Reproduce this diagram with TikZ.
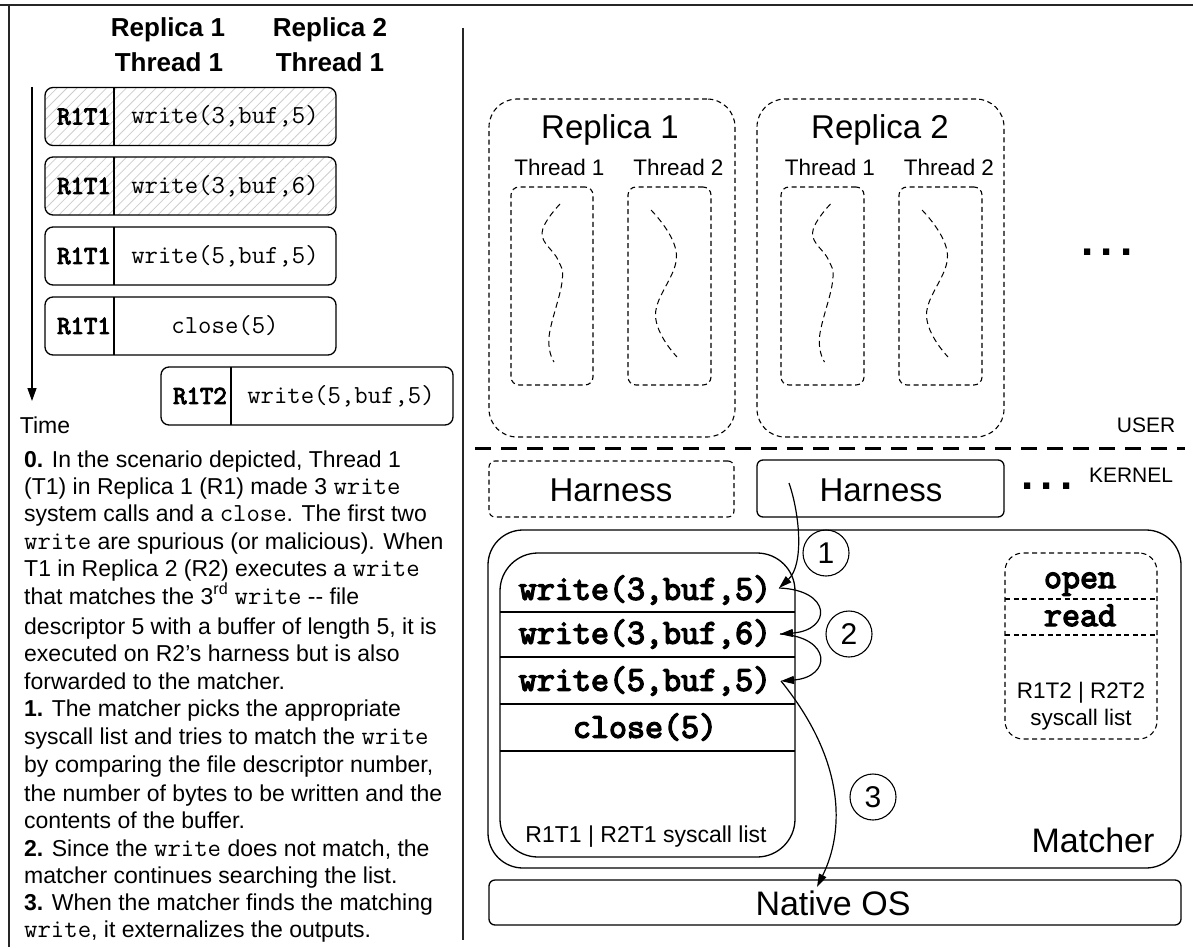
\documentclass[tikz,border=0pt]{standalone}
\usepackage{fontspec}
\setmainfont{Liberation Sans}
\newfontfamily\monobold{Latin Modern Mono}[FakeBold=4]
\usetikzlibrary{arrows.meta,patterns.meta}
\newcommand\fsz[1]{\fontsize{#1}{#1}\selectfont}
\newcommand\code[1]{{\fontsize{26}{23}\selectfont\ttfamily #1}}
\tikzset{
  frame/.style={line width=2pt, draw=black!85},
  callbox/.style={draw, line width=1.3pt, rounded corners=8, minimum width=291, minimum height=58, inner sep=0, outer sep=0},
  hatched/.style={pattern={Lines[angle=45,distance=7pt,line width=0.8pt]}, pattern color=black!20},
  cell/.style={line width=1.3pt},
  lbl/.style={inner sep=0, font=\fsz{26}\monobold},
  call/.style={inner sep=0, font=\fsz{26}\ttfamily},
  hdr/.style={inner sep=0, font=\fsz{26}\bfseries},
  note/.style={anchor=base west, inner sep=0, font=\fsz{23}},
  dashbox/.style={draw, dash pattern=on 5pt off 3.5pt, line width=1.1pt, inner sep=0, outer sep=0},
  solidbox/.style={draw, line width=1.3pt, inner sep=0, outer sep=0},
  threadline/.style={dash pattern=on 6pt off 4pt, line width=1pt},
  big/.style={inner sep=0, font=\fsz{33}},
  mid/.style={inner sep=0, font=\fsz{22.5}},
  small/.style={inner sep=0, font=\fsz{21}},
  row/.style={inner sep=0, font=\fsz{35}\monobold},
  numc/.style={draw, circle, line width=1.1pt, minimum size=46, inner sep=0, font=\fsz{30}},
  flow/.style={line width=1.2pt, -{Triangle[length=13pt,width=8pt]}},
  dots/.style={inner sep=0, font=\fsz{44}\bfseries},
}
\begin{document}
\begin{tikzpicture}[x=1pt,y=-1pt]
\useasboundingbox (0,0) rectangle (1193,947);

% page rules
\draw[frame] (0,5) -- (1193,5);
\draw[frame] (9,5) -- (9,947);
\draw[frame] (463,28) -- (463,940);

% ---------- timeline ----------
\node[hdr] (hr1) at (168,30) {Replica 1};
\node[hdr] (ht1) at (169,62) {Thread 1};
\node[hdr] (hr2) at (330,30) {Replica 2};
\node[hdr] (ht2) at (330,62) {Thread 1};

\coordinate (tstart) at (32,87);
\coordinate (tend) at (32,401);
\draw[line width=1.3pt, -{Triangle[length=13pt,width=9pt]}] (tstart) -- (tend);
\node[inner sep=0, font=\fsz{23}] (time) at (45,425) {Time};

\node[callbox, hatched] (c1) at (190.5,116.5) {};
\draw[cell] (114,87.5) -- (114,145.5);
\node[lbl] (c1l) at (84,116.5) {R1T1};
\node[call] (c1c) at (225,116.5) {write(3,buf,5)};

\node[callbox, hatched] (c2) at (190.5,186) {};
\draw[cell] (114,157) -- (114,215);
\node[lbl] (c2l) at (84,186) {R1T1};
\node[call] (c2c) at (225,186) {write(3,buf,6)};

\node[callbox] (c3) at (190.5,256) {};
\draw[cell] (114,227) -- (114,285);
\node[lbl] (c3l) at (84,256) {R1T1};
\node[call] (c3c) at (225,256) {write(5,buf,5)};

\node[callbox] (c4) at (190.5,326) {};
\draw[cell] (114,297) -- (114,355);
\node[lbl] (c4l) at (84,326) {R1T1};
\node[call] (c4c) at (225,326) {close(5)};

\node[callbox, minimum width=292] (c5) at (307,396) {};
\draw[cell] (231,367) -- (231,425);
\node[lbl] (c5l) at (200,396) {R1T2};
\node[call] (c5c) at (341,396) {write(5,buf,5)};

% ---------- explanation ----------
\node[note] (n1) at (24,467.3) {\textbf{0.} In the scenario depicted, Thread 1};
\node[note] (n2) at (24,494.3) {(T1) in Replica 1 (R1) made 3 \code{write}};
\node[note] (n3) at (24,521.7) {system calls and a \code{close}. The first two};
\node[note] (n4) at (24,549) {\code{write} are spurious (or malicious). When};
\node[note] (n5) at (24,576.7) {T1 in Replica 2 (R2) executes a \code{write}};
\node[note] (n6) at (24,604) {that matches the 3\textsuperscript{rd} \code{write} {-}{-} file};
\node[note] (n7) at (24,634.3) {descriptor 5 with a buffer of length 5, it is};
\node[note] (n8) at (24,661.7) {executed on R2’s harness but is also};
\node[note] (n9) at (24,689.3) {forwarded to the matcher.};
\node[note] (n10) at (24,716.7) {\textbf{1.} The matcher picks the appropriate};
\node[note] (n11) at (24,744) {syscall list and tries to match the \code{write}};
\node[note] (n12) at (24,772.7) {by comparing the file descriptor number,};
\node[note] (n13) at (24,801) {the number of bytes to be written and the};
\node[note] (n14) at (24,828.3) {contents of the buffer.};
\node[note] (n15) at (24,856) {\textbf{2.} Since the \code{write} does not match, the};
\node[note] (n16) at (24,883.3) {matcher continues searching the list.};
\node[note] (n17) at (24,910.7) {\textbf{3.} When the matcher finds the matching};
\node[note] (n18) at (24,937.7) {\code{write}, it externalizes the outputs.};

% ---------- user space ----------
\node[dashbox, rounded corners=28, minimum width=246, minimum height=338] (rep1) at (612,268) {};
\node[dashbox, rounded corners=28, minimum width=247, minimum height=338] (rep2) at (880.5,268) {};
\node[big] (rep1t) at (610,130) {Replica 1};
\node[big] (rep2t) at (880,130) {Replica 2};
\node[mid] (th11) at (559.5,167) {Thread 1};
\node[mid] (th12) at (678.5,167) {Thread 2};
\node[mid] (th21) at (830,167) {Thread 1};
\node[mid] (th22) at (949,167) {Thread 2};

\node[dashbox, rounded corners=8, minimum width=82, minimum height=198] (tb11) at (552,286) {};
\node[dashbox, rounded corners=8, minimum width=83, minimum height=198] (tb12) at (669.5,286) {};
\node[dashbox, rounded corners=8, minimum width=83, minimum height=198] (tb21) at (822.5,286) {};
\node[dashbox, rounded corners=8, minimum width=83, minimum height=198] (tb22) at (940.5,286) {};

\foreach \cx in {552,822.5}{
  \draw[threadline, shift={(\cx,286)}] plot[smooth, tension=0.7] coordinates
    {(8,-82) (-10,-53) (6,-26) (10,-4) (-3,51) (2,76)};
}
\foreach \cx in {669.5,940.5}{
  \draw[threadline, shift={(\cx,286)}] plot[smooth, tension=0.7] coordinates
    {(-18.5,-76) (7,-31) (-14,29) (7.5,71)};
}

\node[dots] (moreu) at (1107,252) {.\,.\,.};
\node[small] (user) at (1146,425) {USER};

% user / kernel boundary
\draw[line width=3pt, dash pattern=on 16pt off 10pt] (475,448) -- (1185,448);

% ---------- kernel ----------
\node[small] (kernel) at (1131,475) {KERNEL};
\node[dashbox, rounded corners=6, minimum width=245, minimum height=56] (har1) at (611.5,489) {};
\node[solidbox, rounded corners=6, minimum width=247, minimum height=57] (har2) at (880.5,488.5) {};
\node[big] (har1t) at (611,490) {Harness};
\node[big] (har2t) at (881,490) {Harness};
\node[dots] (morek) at (1047,486) {.\,.\,.};

\node[solidbox, rounded corners=35, minimum width=693, minimum height=338] (matcher) at (834.5,699) {};
\node[big, font=\fsz{34}] (matchert) at (1093,840) {Matcher};

% syscall list of R1T1 | R2T1
\node[solidbox, rounded corners=38, minimum width=295, minimum height=304] (list1) at (647.5,705) {};
\foreach \yy in {612,657,704,751}{
  \draw[line width=1.2pt] (500,\yy) -- (795,\yy);
}
\node[row] (w1) at (645,590) {write(3,buf,5)};
\node[row] (w2) at (645,634) {write(3,buf,6)};
\node[row] (w3) at (645,681) {write(5,buf,5)};
\node[row] (w4) at (645,727) {close(5)};
\node[mid, font=\fsz{23}] (list1t) at (646,837) {R1T1 | R2T1 syscall list};

% syscall list of R1T2 | R2T2
\node[dashbox, rounded corners=18, minimum width=152, minimum height=186] (list2) at (1081,646) {};
\draw[dash pattern=on 5pt off 3.5pt, line width=1.1pt] (1005,599) -- (1157,599);
\draw[dash pattern=on 5pt off 3.5pt, line width=1.1pt] (1005,635) -- (1157,635);
\node[row, anchor=base] (op) at (1080,588) {open};
\node[row, anchor=base] (rd) at (1080,626) {read};
\node[mid] (list2a) at (1081,693) {R1T2 | R2T2};
\node[mid] (list2b) at (1081,720) {syscall list};

% native OS
\node[solidbox, rounded corners=6, minimum width=692, minimum height=45] (os) at (835,902.5) {};
\node[big, font=\fsz{34}] (ost) at (833,903) {Native OS};

% steps
\node[numc] (s1) at (826,553) {1};
\node[numc] (s2) at (849,634) {2};
\node[numc] (s3) at (873,797) {3};

\coordinate (fwd) at (789,483);
\coordinate (p1) at (779,588);
\coordinate (p2) at (780,634);
\coordinate (p3) at (781,681);
\coordinate (osin) at (817,887);

\draw[flow] (fwd) .. controls (800,515) and (804,565) .. (p1);
\draw[flow] (p1) .. controls (832,590) and (832,630) .. (p2);
\draw[flow] (p2) .. controls (832,637) and (832,677) .. (p3);
\draw[flow] (p3) .. controls (845,760) and (845,830) .. (osin);
\end{tikzpicture}
\end{document}
